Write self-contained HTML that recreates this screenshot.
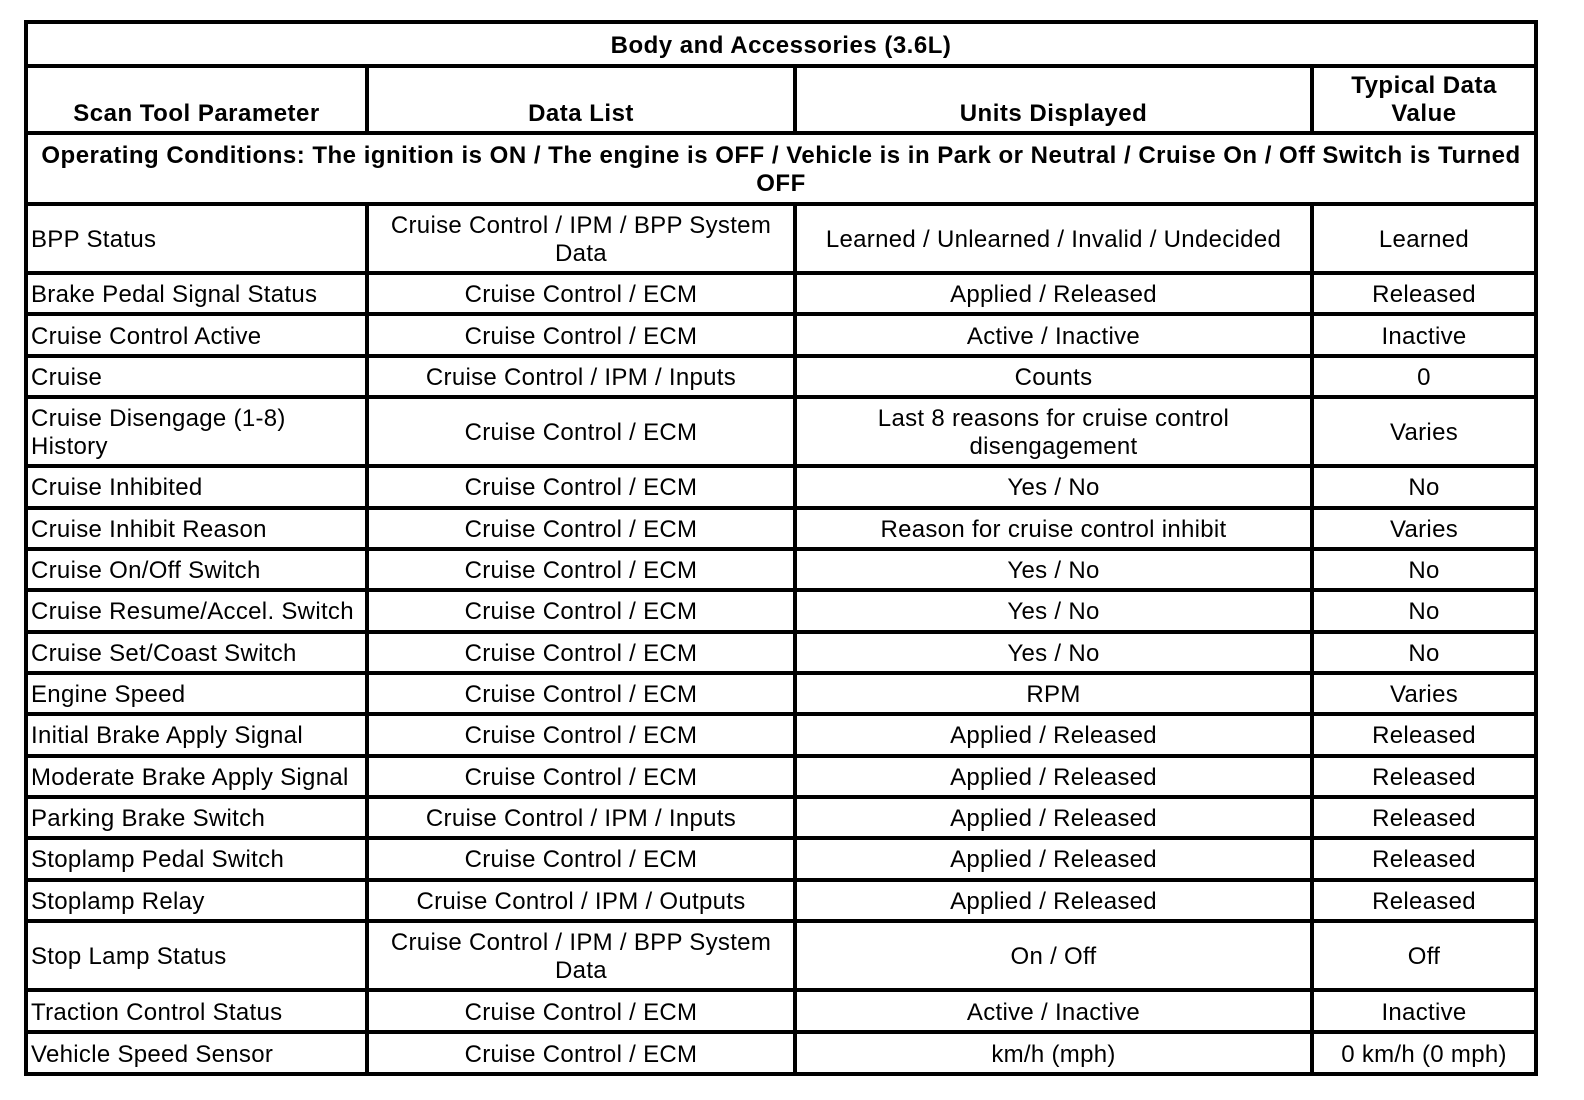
<!DOCTYPE html>
<html><head><meta charset="utf-8"><style>
html,body{margin:0;padding:0;background:#fff;width:1584px;height:1100px;overflow:hidden;position:relative}
body{font-family:"Liberation Sans",Arial,sans-serif;color:#000;font-size:24px;letter-spacing:0.3px}
.h,.v{position:absolute;background:#000}
.h{left:24px;width:1514px;height:4px}
.v{top:20px;height:1056px;width:4px}
.r{position:absolute;left:0;width:1584px}
.c{position:absolute;top:0;bottom:0;display:flex;align-items:center;justify-content:center;text-align:center;line-height:28px;padding-top:3px;box-sizing:border-box}
.c1{left:28px;width:337px;justify-content:flex-start;text-align:left;padding-left:3px}
.c2{left:369px;width:424px}
.c3{left:797px;width:513px}
.c4{left:1314px;width:220px}
.b{font-weight:bold;letter-spacing:0.5px}
.hd .c{align-items:flex-end;padding-bottom:3px;padding-top:0}
.hd .c1{justify-content:center;text-align:center;padding-left:0}
</style></head><body>
<div class="h" style="top:20px"></div>
<div class="h" style="top:64px"></div>
<div class="h" style="top:131px"></div>
<div class="h" style="top:202px"></div>
<div class="h" style="top:271px"></div>
<div class="h" style="top:312.4px"></div>
<div class="h" style="top:353.7px"></div>
<div class="h" style="top:395.1px"></div>
<div class="h" style="top:464.1px"></div>
<div class="h" style="top:505.5px"></div>
<div class="h" style="top:546.8px"></div>
<div class="h" style="top:588.2px"></div>
<div class="h" style="top:629.5px"></div>
<div class="h" style="top:670.9px"></div>
<div class="h" style="top:712.3px"></div>
<div class="h" style="top:753.6px"></div>
<div class="h" style="top:795px"></div>
<div class="h" style="top:836.3px"></div>
<div class="h" style="top:877.7px"></div>
<div class="h" style="top:919.1px"></div>
<div class="h" style="top:988px"></div>
<div class="h" style="top:1030px"></div>
<div class="h" style="top:1072px"></div>
<div class="v" style="left:24px"></div>
<div class="v" style="left:1534px"></div>
<div class="v" style="left:365px;top:64px;height:71px"></div>
<div class="v" style="left:793px;top:64px;height:71px"></div>
<div class="v" style="left:1310px;top:64px;height:71px"></div>
<div class="v" style="left:365px;top:202px;height:874px"></div>
<div class="v" style="left:793px;top:202px;height:874px"></div>
<div class="v" style="left:1310px;top:202px;height:874px"></div>

<div class="r" style="top:24px;height:40px"><div class="c b" style="left:28px;width:1506px">Body and Accessories (3.6L)</div></div>
<div class="r hd" style="top:68px;height:63px">
<div class="c c1 b">Scan Tool Parameter</div><div class="c c2 b">Data List</div><div class="c c3 b">Units Displayed</div><div class="c c4 b">Typical Data<br>Value</div></div>
<div class="r" style="top:135px;height:67px"><div class="c b" style="left:28px;width:1506px;padding:2px 2px 0 2px">Operating Conditions: The ignition is ON / The engine is OFF / Vehicle is in Park or Neutral / Cruise On / Off Switch is Turned OFF</div></div>

<div class="r" style="top:206px;height:65px"><div class="c c1">BPP Status</div><div class="c c2">Cruise Control / IPM / BPP System<br>Data</div><div class="c c3">Learned / Unlearned / Invalid / Undecided</div><div class="c c4">Learned</div></div>
<div class="r" style="top:275px;height:37.4px"><div class="c c1">Brake Pedal Signal Status</div><div class="c c2">Cruise Control / ECM</div><div class="c c3">Applied / Released</div><div class="c c4">Released</div></div>
<div class="r" style="top:316.4px;height:37.3px"><div class="c c1">Cruise Control Active</div><div class="c c2">Cruise Control / ECM</div><div class="c c3">Active / Inactive</div><div class="c c4">Inactive</div></div>
<div class="r" style="top:357.7px;height:37.4px"><div class="c c1">Cruise</div><div class="c c2">Cruise Control / IPM / Inputs</div><div class="c c3">Counts</div><div class="c c4">0</div></div>
<div class="r" style="top:399.1px;height:65px"><div class="c c1">Cruise Disengage (1-8)<br>History</div><div class="c c2">Cruise Control / ECM</div><div class="c c3">Last 8 reasons for cruise control<br>disengagement</div><div class="c c4">Varies</div></div>
<div class="r" style="top:468.1px;height:37.4px"><div class="c c1">Cruise Inhibited</div><div class="c c2">Cruise Control / ECM</div><div class="c c3">Yes / No</div><div class="c c4">No</div></div>
<div class="r" style="top:509.5px;height:37.3px"><div class="c c1">Cruise Inhibit Reason</div><div class="c c2">Cruise Control / ECM</div><div class="c c3">Reason for cruise control inhibit</div><div class="c c4">Varies</div></div>
<div class="r" style="top:550.8px;height:37.4px"><div class="c c1">Cruise On/Off Switch</div><div class="c c2">Cruise Control / ECM</div><div class="c c3">Yes / No</div><div class="c c4">No</div></div>
<div class="r" style="top:592.2px;height:37.3px"><div class="c c1">Cruise Resume/Accel. Switch</div><div class="c c2">Cruise Control / ECM</div><div class="c c3">Yes / No</div><div class="c c4">No</div></div>
<div class="r" style="top:633.5px;height:37.4px"><div class="c c1">Cruise Set/Coast Switch</div><div class="c c2">Cruise Control / ECM</div><div class="c c3">Yes / No</div><div class="c c4">No</div></div>
<div class="r" style="top:674.9px;height:37.4px"><div class="c c1">Engine Speed</div><div class="c c2">Cruise Control / ECM</div><div class="c c3">RPM</div><div class="c c4">Varies</div></div>
<div class="r" style="top:716.3px;height:37.3px"><div class="c c1">Initial Brake Apply Signal</div><div class="c c2">Cruise Control / ECM</div><div class="c c3">Applied / Released</div><div class="c c4">Released</div></div>
<div class="r" style="top:757.6px;height:37.4px"><div class="c c1">Moderate Brake Apply Signal</div><div class="c c2">Cruise Control / ECM</div><div class="c c3">Applied / Released</div><div class="c c4">Released</div></div>
<div class="r" style="top:799px;height:37.3px"><div class="c c1">Parking Brake Switch</div><div class="c c2">Cruise Control / IPM / Inputs</div><div class="c c3">Applied / Released</div><div class="c c4">Released</div></div>
<div class="r" style="top:840.3px;height:37.4px"><div class="c c1">Stoplamp Pedal Switch</div><div class="c c2">Cruise Control / ECM</div><div class="c c3">Applied / Released</div><div class="c c4">Released</div></div>
<div class="r" style="top:881.7px;height:37.4px"><div class="c c1">Stoplamp Relay</div><div class="c c2">Cruise Control / IPM / Outputs</div><div class="c c3">Applied / Released</div><div class="c c4">Released</div></div>
<div class="r" style="top:923.1px;height:64.9px"><div class="c c1">Stop Lamp Status</div><div class="c c2">Cruise Control / IPM / BPP System<br>Data</div><div class="c c3">On / Off</div><div class="c c4">Off</div></div>
<div class="r" style="top:992px;height:38px"><div class="c c1">Traction Control Status</div><div class="c c2">Cruise Control / ECM</div><div class="c c3">Active / Inactive</div><div class="c c4">Inactive</div></div>
<div class="r" style="top:1034px;height:38px"><div class="c c1">Vehicle Speed Sensor</div><div class="c c2">Cruise Control / ECM</div><div class="c c3">km/h (mph)</div><div class="c c4">0 km/h (0 mph)</div></div>
</body></html>
